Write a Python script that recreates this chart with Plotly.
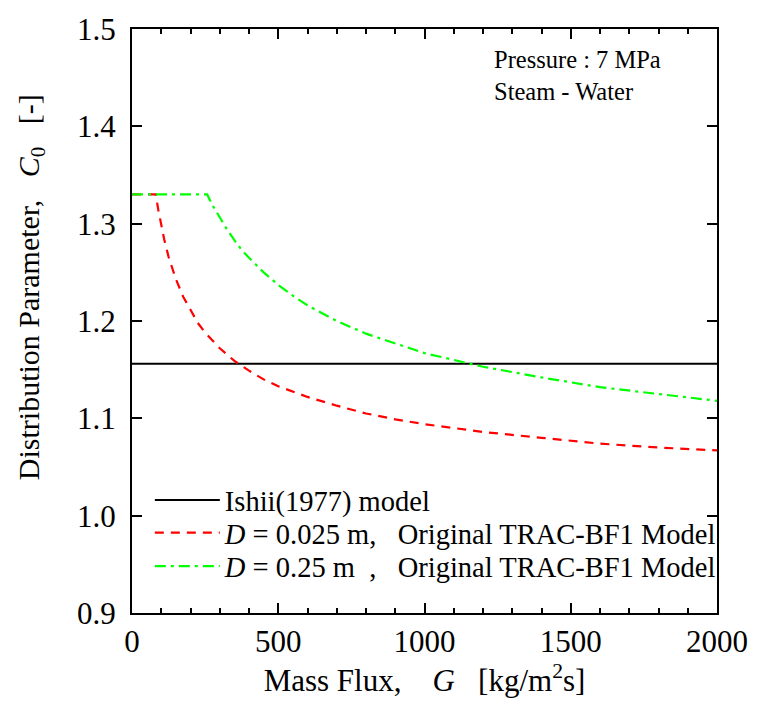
import plotly.graph_objects as go

# Mass flux grid [kg/m2s] and distribution parameter C0 [-]
ishii_g = [0, 2000]
ishii_c0 = [1.156, 1.156]

d025_g = [0, 81, 90, 100, 110, 125, 150, 175, 200, 225, 250, 300, 350, 400, 450,
          500, 600, 700, 800, 900, 1000, 1200, 1400, 1600, 1800, 2000]
d025_c0 = [1.330, 1.330, 1.314, 1.298, 1.284, 1.266, 1.243, 1.225, 1.211, 1.198,
           1.188, 1.172, 1.159, 1.149, 1.140, 1.133, 1.122, 1.113, 1.105, 1.099,
           1.094, 1.086, 1.080, 1.074, 1.070, 1.067]

d25_g = [0, 257, 275, 300, 325, 350, 375, 400, 450, 500, 550, 600, 650, 700, 800,
         900, 1000, 1100, 1200, 1400, 1600, 1800, 2000]
d25_c0 = [1.330, 1.330, 1.319, 1.306, 1.294, 1.283, 1.273, 1.265, 1.250, 1.237,
          1.226, 1.216, 1.208, 1.200, 1.187, 1.177, 1.167, 1.160, 1.153, 1.142,
          1.132, 1.125, 1.118]

NB = "\u00a0"
ZW = "\u200b"  # keeps the leading padding from being trimmed
series_names = [
    "Ishii(1977) model",
    f"<i>D</i> = 0.025 m,{NB * 3}Original TRAC-BF1 Model",
    f"<i>D</i> = 0.25 m{NB * 2},{NB * 3}Original TRAC-BF1 Model",
]

x_ticks = [0, 500, 1000, 1500, 2000]
y_ticks = [0.9, 1.0, 1.1, 1.2, 1.3, 1.4, 1.5]

FONT = "Liberation Serif, Times New Roman, serif"

fig = go.Figure()
fig.add_trace(go.Scatter(x=ishii_g, y=ishii_c0, mode="lines", name=series_names[0],
                         legend="legend",
                         line=dict(color="black", width=2)))
fig.add_trace(go.Scatter(x=d025_g, y=d025_c0, mode="lines", name=series_names[1],
                         legend="legend2",
                         line=dict(color="#ff0000", width=2.2, dash="9px,7px")))
fig.add_trace(go.Scatter(x=d25_g, y=d25_c0, mode="lines", name=series_names[2],
                         legend="legend3",
                         line=dict(color="#00ff00", width=2.2, dash="11px,5px,3px,5px")))

axis_common = dict(
    showline=True, linecolor="black", linewidth=2, mirror="ticks",
    ticks="inside", tickcolor="black", tickwidth=2, ticklen=10,
    showgrid=False, zeroline=False,
    tickfont=dict(family=FONT, size=31, color="black"),
)

fig.update_xaxes(
    range=[0, 2000], tickvals=x_ticks, ticklabelstandoff=0,
    minor=dict(dtick=100, ticks="inside", ticklen=5, tickwidth=1.5, tickcolor="black"),
    title=dict(text=f"Mass Flux,{NB * 4}<i>G</i>{NB * 3}[kg/m<sup>2</sup>s]",
               font=dict(family=FONT, size=31, color="black"), standoff=10),
    **axis_common,
)
fig.update_yaxes(
    range=[0.9, 1.5], tickvals=y_ticks, tickformat=".1f", ticklabelstandoff=8,
    title=dict(text=f"{ZW}{NB * 9}Distribution Parameter,{NB * 3}<i>C</i><sub>0</sub>{NB * 3}[-]",
               font=dict(family=FONT, size=30, color="black"), standoff=29),
    **axis_common,
)

fig.add_annotation(
    x=0.616, y=0.975, xref="paper", yref="paper", xanchor="left", yanchor="top",
    text="Pressure : 7 MPa<br>Steam - Water", showarrow=False, align="left",
    font=dict(family=FONT, size=24.5, color="black"),
)

legend_common = dict(x=0.0305, xanchor="left", yanchor="middle",
                     bgcolor="rgba(0,0,0,0)", borderwidth=0, itemwidth=65,
                     font=dict(family=FONT, size=28.5, color="black"))

fig.update_layout(
    width=760, height=718,
    margin=dict(l=132, r=37, t=22, b=105),
    paper_bgcolor="white", plot_bgcolor="white",
    font=dict(family=FONT, color="black"),
    showlegend=True,
    legend=dict(y=0.1926, **legend_common),
    legend2=dict(y=0.1368, **legend_common),
    legend3=dict(y=0.0794, **legend_common),
)

fig.write_html("out.html")
